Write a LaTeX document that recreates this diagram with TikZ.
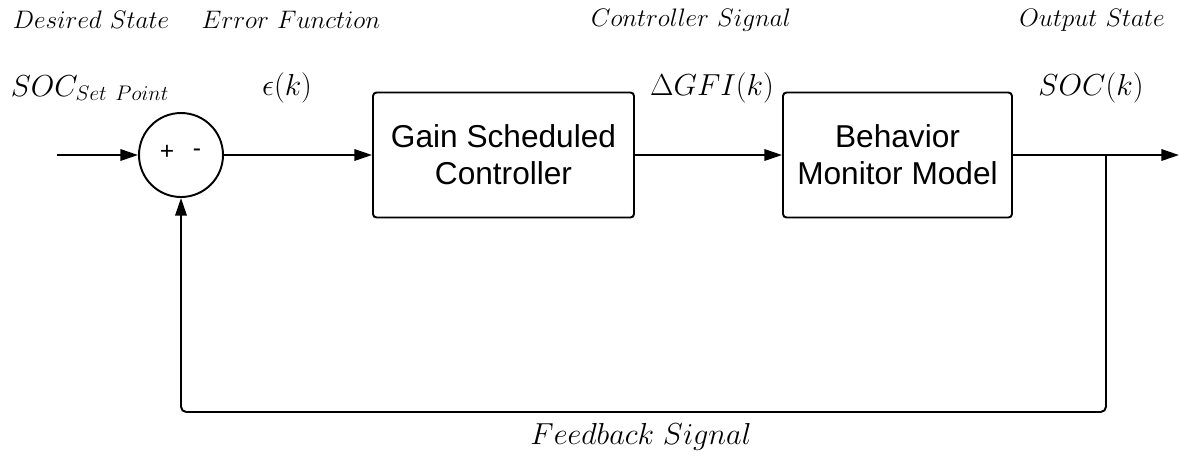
\documentclass[tikz,border=0pt]{standalone}
\usepackage{amsmath}
\usepackage{fontspec}
\setsansfont{Liberation Sans}
\usepackage{tikz}
\usetikzlibrary{arrows.meta,positioning}

\begin{document}
\begin{tikzpicture}[line width=1.1pt,
        block/.style={draw,rounded corners=2pt,minimum height=2.5cm,align=center,
          font=\sffamily\fontsize{18}{21}\selectfont},
        sum/.style={draw,circle,minimum size=1.68cm,inner sep=0pt},
        sig/.style={-{Triangle[length=10pt,width=6.5pt]}},
        caption/.style={font=\fontsize{14.2}{16}\selectfont},
        sym/.style={font=\fontsize{16.5}{18}\selectfont}]
        \useasboundingbox (0,0) rectangle (23.6,-9.14);
        % loop blocks
        \node[sum] (sum) at (3.62,-3.1) {};
        \node[font=\sffamily\fontsize{14}{16}\selectfont] (plus) at (3.34,-3.05) {+};
        \node[font=\sffamily\fontsize{14}{16}\selectfont] (minus) at (3.94,-3.05) {-};
        \node[block,minimum width=5.22cm] (ctrl) at (10.07,-3.1) {Gain Scheduled\\Controller};
        \node[block,minimum width=4.58cm] (plant) at (17.95,-3.1) {Behavior\\Monitor Model};
        \coordinate (in) at (1.14,-3.1);
        \coordinate (fb) at (22.12,-3.1);
        \coordinate (out) at (23.58,-3.1);
        \coordinate (bot) at (22.12,-8.24);
        % signals
        \draw[sig] (in)--(sum); \draw[sig] (sum)--(ctrl);
        \draw[sig] (ctrl)--(plant); \draw[sig] (plant)--(out);
        \draw[sig,rounded corners=3pt] (fb)--(bot)-|(sum);
        % captions
        \node[caption] (desired) at (1.82,-0.4) {$Desired\ State$};
        \node[caption] (error) at (5.82,-0.4) {$Error\ Function$};
        \node[caption] (csig) at (13.82,-0.4) {$Controller\ Signal$};
        \node[caption] (ostate) at (21.84,-0.4) {$Output\ State$};
        \node[sym] (sp) at (1.8,-1.76) {$SOC_{Set\ Point}$};
        \node[sym] (eps) at (5.74,-1.76) {$\epsilon(k)$};
        \node[sym] (dgfi) at (14.24,-1.76) {$\Delta GFI(k)$};
        \node[sym] (sock) at (21.82,-1.76) {$SOC(k)$};
        \node[sym] (fbsig) at (12.82,-8.74) {$Feedback\ Signal$};
      \end{tikzpicture}
\end{document}
